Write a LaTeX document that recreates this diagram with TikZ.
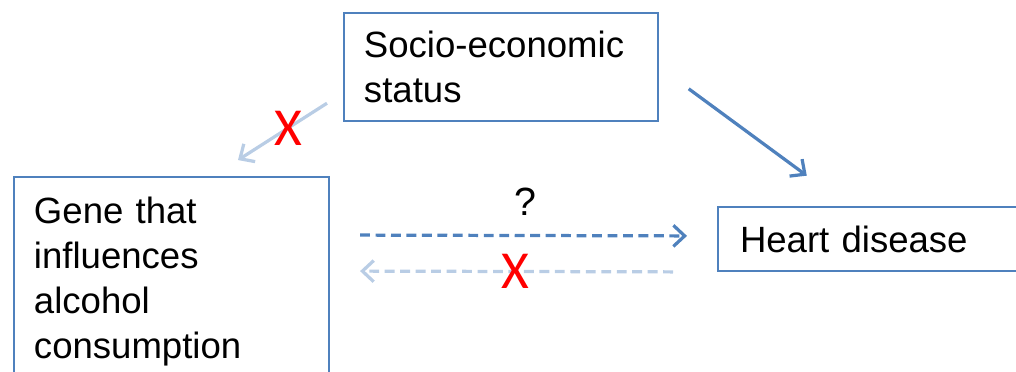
\documentclass[tikz,border=0pt]{standalone}
\usepackage{fontspec}
\setmainfont{Liberation Sans}
\newfontfamily\crossfont{Carlito}
\usetikzlibrary{arrows.meta}
\definecolor{boxblue}{HTML}{4F81BD}
\definecolor{paleblue}{HTML}{B9CDE5}
\tikzset{
  box/.style={draw=boxblue, line width=1.4pt, align=left, anchor=north west,
    font=\fontsize{26}{32}\selectfont},
  arr/.style={-{Straight Barb[length=8pt,width=15pt]}, line width=2.3pt, draw=boxblue},
  palearr/.style={arr, draw=paleblue},
  dashline/.style={dash pattern=on 7pt off 4pt},
  crossx/.style={text=red, inner sep=0pt, font=\crossfont\fontsize{38}{40}\selectfont}
}
\begin{document}
\begin{tikzpicture}[x=0.025cm,y=-0.025cm]
  \useasboundingbox (0,0) rectangle (1016,372);
  \clip (0,0) rectangle (1016,372);
  \node[box, text width=6.85cm, inner xsep=0.5cm, minimum height=2.7cm] (ses) at (343,12) {Socio-economic\\status};
  \node[box, text width=6.875cm, inner xsep=0.5cm, inner ysep=0.5cm] (gene) at (13,176) {Gene that\\influences\\alcohol\\consumption};
  \node[box, text width=7.5cm, inner xsep=0.55cm, minimum height=1.6cm] (hd) at (717,206) {Heart disease};
  \draw[arr, shorten <=0.92cm, shorten >=1.28cm] (ses.east) -- ([xshift=3.275cm]hd.north west);
  \draw[palearr, shorten <=0.475cm, shorten >=0.74cm] ([yshift=-0.65cm]ses.west) -- ([xshift=5cm]gene.north west)
    node[pos=.42, crossx] (x1) {X};
  \draw[arr, dashline, shorten <=0.75cm, shorten >=0.75cm] ([yshift=-1.475cm]gene.north east) -- ([yshift=0.075cm]hd.west)
    node[pos=.505, above=0.45cm, inner sep=0pt, font=\fontsize{28}{30}\selectfont] (q) {?};
  \draw[palearr, dashline, shorten <=1.1cm, shorten >=0.75cm] ([yshift=-0.825cm]hd.west) -- ([yshift=-2.375cm]gene.north east)
    node[pos=.522, crossx] (x2) {X};
\end{tikzpicture}
\end{document}
